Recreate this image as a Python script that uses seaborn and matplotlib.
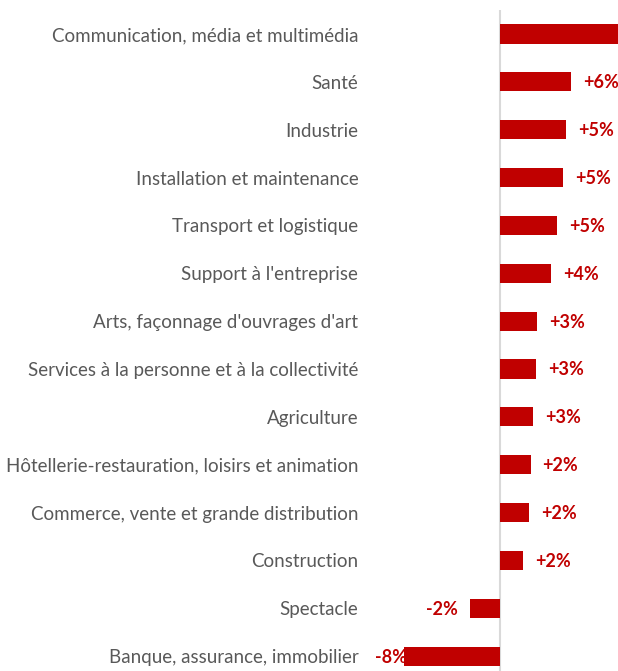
import matplotlib.pyplot as plt
import seaborn as sns
import pandas as pd

categories = [
    "Communication, média et multimédia",
    "Santé",
    "Industrie",
    "Installation et maintenance",
    "Transport et logistique",
    "Support à l'entreprise",
    "Arts, façonnage d'ouvrages d'art",
    "Services à la personne et à la collectivité",
    "Agriculture",
    "Hôtellerie-restauration, loisirs et animation",
    "Commerce, vente et grande distribution",
    "Construction",
    "Spectacle",
    "Banque, assurance, immobilier",
]
values = [10.0, 5.63, 5.24, 5.0, 4.55, 4.05, 2.97, 2.86, 2.6, 2.44, 2.33, 1.85, -2.38, -7.6]
labels = ['+10%', '+6%', '+5%', '+5%', '+5%', '+4%', '+3%', '+3%', '+3%',
          '+2%', '+2%', '+2%', '-2%', '-8%']

red = '#C00000'

sns.set_theme(style='white')
plt.rcParams['font.family'] = ['Lato', 'DejaVu Sans']

fig = plt.figure(figsize=(6.18, 6.71), dpi=100)
ax = fig.add_axes([375 / 618, 0, 243 / 618, 661 / 671])

df = pd.DataFrame({'cat': categories, 'val': values})
sns.barplot(data=df, x='val', y='cat', color=red, saturation=1, width=0.4,
            linewidth=0, ax=ax)

ax.set_xlim(-9.9, 9.37)
ax.set_ylim(13.31, -0.5)
for s in ax.spines.values():
    s.set_visible(False)
ax.axvline(0, color='#d9d9d9', lw=1.5, zorder=0)
ax.set_xticks([])
ax.set_xlabel('')
ax.set_ylabel('')
ax.tick_params(axis='y', length=0, pad=12, labelsize=13.5, labelcolor='#595959')

texts = []
for i, (v, lab) in enumerate(zip(values, labels)):
    off = 12 if v >= 0 else -12
    t = ax.annotate(lab, xy=(v, i), xytext=(off, -1), textcoords='offset pixels',
                    ha='left' if v >= 0 else 'right', va='center',
                    fontsize=13, fontweight='bold', color=red)
    texts.append(t)

# keep labels inside the plot area on the left, like the original
fig.canvas.draw()
ax_left = ax.get_window_extent().x0
for t in texts:
    bb = t.get_window_extent()
    if bb.x0 < ax_left:
        x, y = t.get_position()
        t.set_position((x + (ax_left - bb.x0), y))

fig.savefig('out.png', dpi=100)
